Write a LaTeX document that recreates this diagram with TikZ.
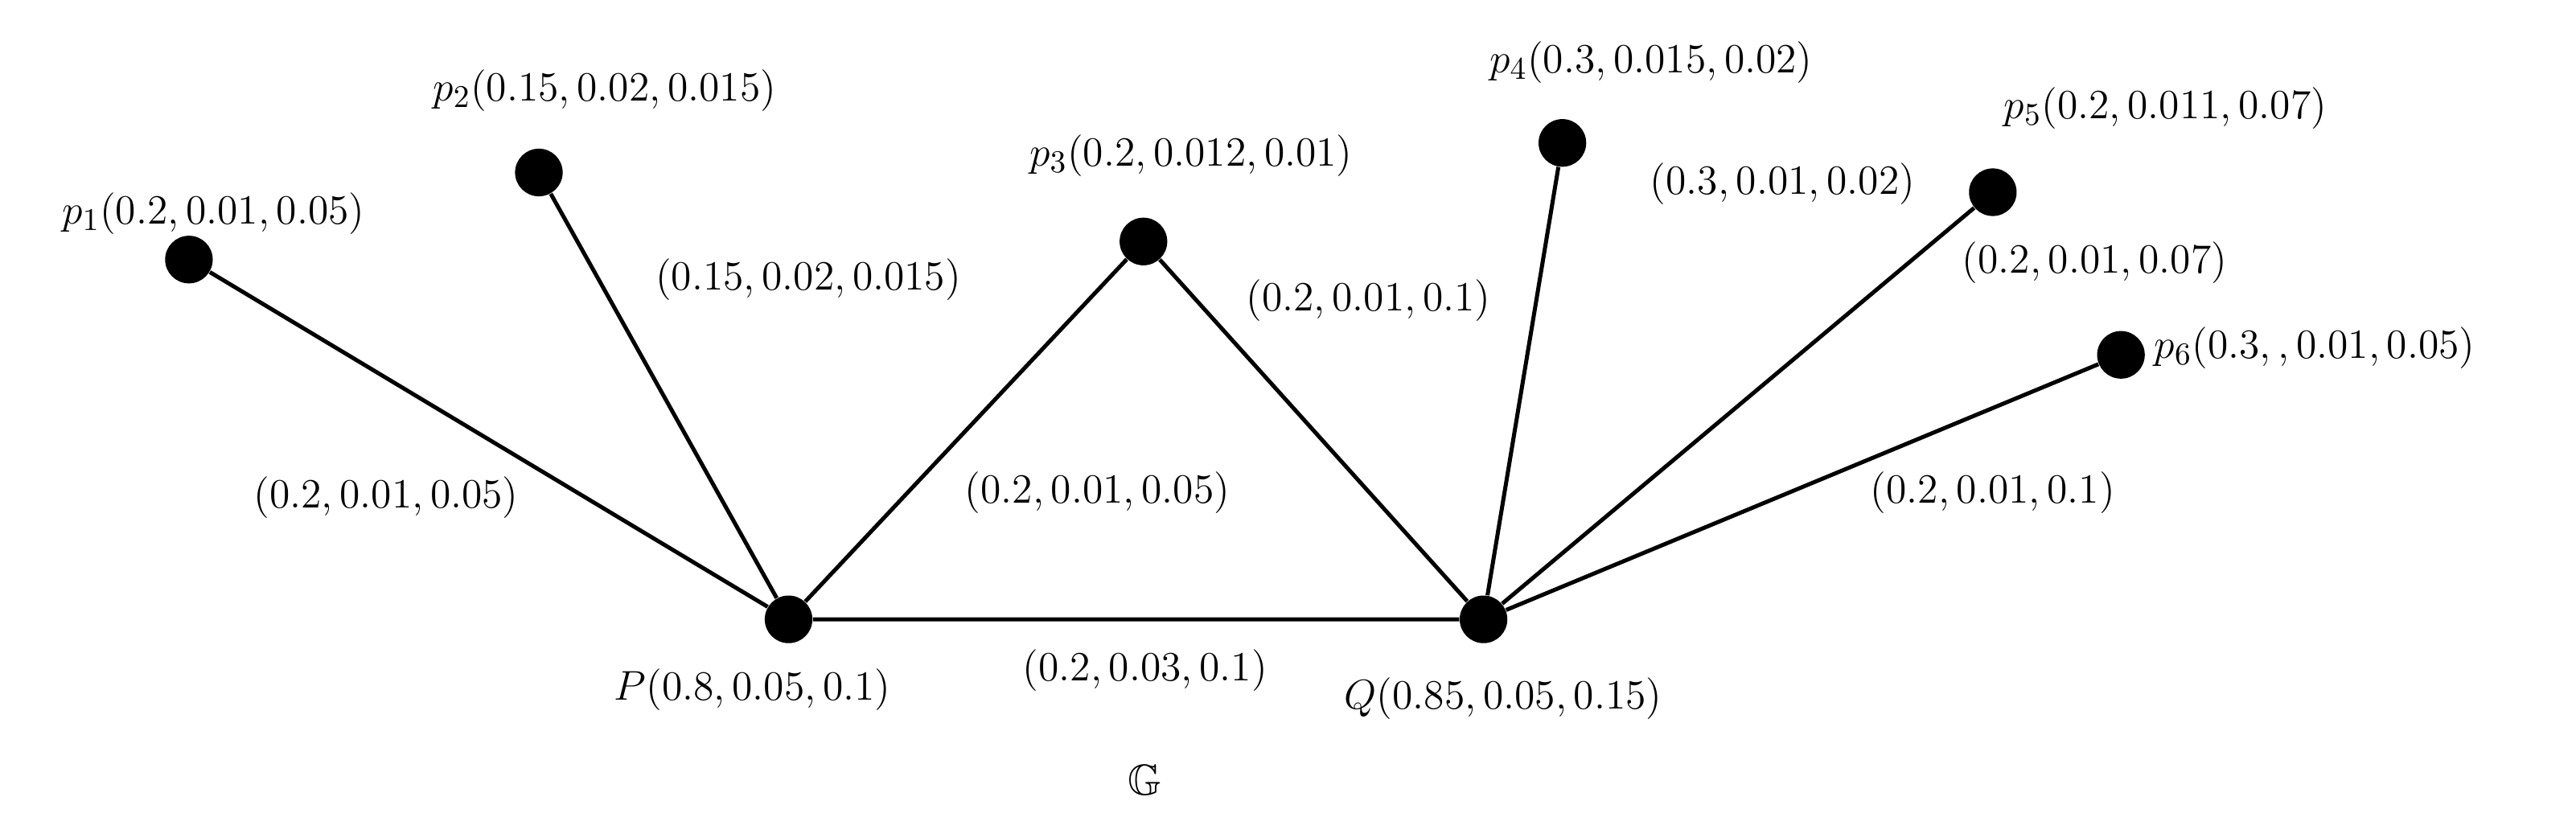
\documentclass[tikz,border=0pt]{standalone}
\usepackage{amssymb}
\begin{document}
\begin{tikzpicture}[x=0.02cm,y=-0.02cm,
  dot/.style={circle,fill=black,inner sep=0pt,minimum size=0.58cm},
  lab/.style={font=\fontsize{15}{18}\selectfont,inner sep=0pt},
  edge/.style={line width=1.4pt}]
\useasboundingbox (0,0) rectangle (1568,510);
\node[dot] (p1) at (115,158) {};
\node[dot] (p2) at (328,105) {};
\node[dot] (p3) at (696,147) {};
\node[dot] (p4) at (951,87) {};
\node[dot] (p5) at (1213,117) {};
\node[dot] (p6) at (1291,216) {};
\node[dot] (P) at (480,377) {};
\node[dot] (Q) at (903,377) {};
\draw[edge] (p1)--(P) (p2)--(P) (p3)--(P) (P)--(Q) (p3)--(Q) (p4)--(Q) (p5)--(Q) (p6)--(Q);
\node[lab] (lp1) at (130,130) {$p_1(0.2,0.01,0.05)$};
\node[lab] (lp2) at (368,55) {$p_2(0.15,0.02,0.015)$};
\node[lab] (lp3) at (725,95) {$p_3(0.2,0.012,0.01)$};
\node[lab] (lp4) at (1005,38) {$p_4(0.3,0.015,0.02)$};
\node[lab] (lp5) at (1318,66) {$p_5(0.2,0.011,0.07)$};
\node[lab,anchor=west] (lp6) at (1311,212) {$p_6(0.3,,0.01,0.05)$};
\node[lab] (lP) at (458,420) {$P(0.8,0.05,0.1)$};
\node[lab] (lQ) at (915,425) {$Q(0.85,0.05,0.15)$};
\node[lab] (G) at (697,475) {$\mathbb{G}$};
\node[lab] (e1) at (235,303) {$(0.2,0.01,0.05)$};
\node[lab] (e2) at (492,170) {$(0.15,0.02,0.015)$};
\node[lab] (e3) at (668,300) {$(0.2,0.01,0.05)$};
\node[lab] (e4) at (833,183) {$(0.2,0.01,0.1)$};
\node[lab] (e5) at (1085,112) {$(0.3,0.01,0.02)$};
\node[lab] (e6) at (1275,160) {$(0.2,0.01,0.07)$};
\node[lab] (e7) at (1213,300) {$(0.2,0.01,0.1)$};
\node[lab] (e8) at (697,408) {$(0.2,0.03,0.1)$};
\end{tikzpicture}
\end{document}
